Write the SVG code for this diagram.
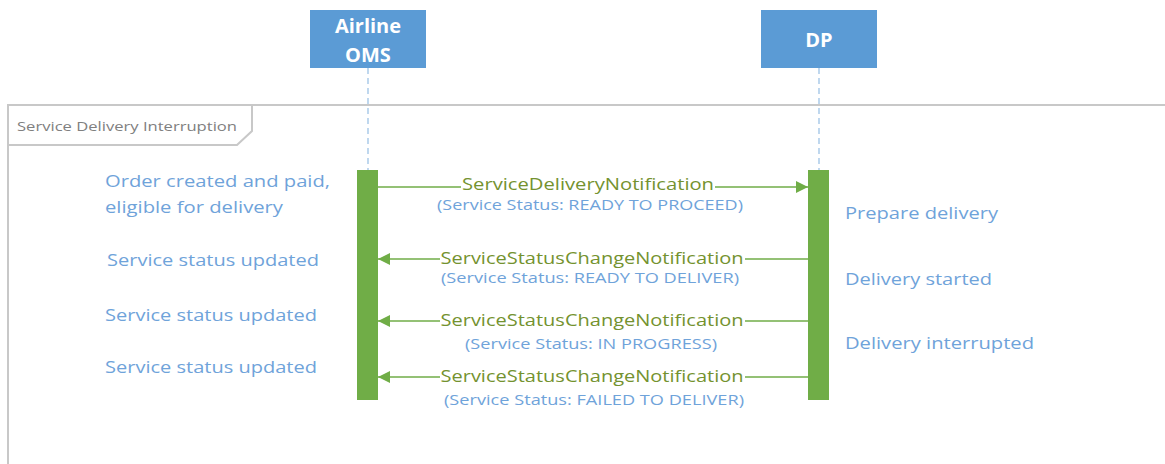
<svg xmlns="http://www.w3.org/2000/svg" width="1165" height="464" viewBox="0 0 1165 464">
<defs>
<marker id="ah" viewBox="0 0 12 12" refX="12" refY="6" markerWidth="12" markerHeight="12" markerUnits="userSpaceOnUse" orient="auto">
<path d="M0,0 L12,6 L0,12 Z" fill="#70AD47"/>
</marker>
<style>
.hdr{fill:#5B9BD5}
.hdrt{fill:#ffffff;font-family:"Open Sans","Liberation Sans",sans-serif;font-weight:bold;font-size:20px;text-anchor:middle}
.life{stroke:#9DC3E6;stroke-width:1.3;stroke-dasharray:6,4;fill:none}
.bar{fill:#70AD47}
.msg{stroke:#70AD47;stroke-width:1.5;fill:none}
.mt{fill:#74922F;font-family:"Open Sans","Liberation Sans",sans-serif;font-size:16px;text-anchor:middle}
.st{fill:#6FA3DA;font-family:"Open Sans","Liberation Sans",sans-serif;font-size:14px;text-anchor:middle}
.note{fill:#6FA3DA;font-family:"Open Sans","Liberation Sans",sans-serif;font-size:16px}
.frame{stroke:#C8C8C8;stroke-width:2;fill:none}
.ft{fill:#808080;font-family:"Open Sans","Liberation Sans",sans-serif;font-size:13px}
</style>
</defs>
<rect width="1165" height="464" fill="#ffffff"/>
<g id="frame">
<rect class="frame" x="8" y="105" width="1170" height="380"/>
<path class="frame" d="M8,145 L237,145 L252,131 L252,105"/>
<text class="ft" x="17" y="131" textLength="220" lengthAdjust="spacingAndGlyphs">Service Delivery Interruption</text>
</g>
<g id="airline-oms">
<rect class="hdr" x="310" y="10" width="116" height="58"/>
<text class="hdrt" x="368" y="33">Airline</text>
<text class="hdrt" x="368" y="62">OMS</text>
<line class="life" x1="368" y1="68" x2="368" y2="170"/>
<rect class="bar" x="357" y="170" width="21" height="230"/>
</g>
<g id="dp">
<rect class="hdr" x="761" y="10" width="116" height="58"/>
<text class="hdrt" x="819" y="47">DP</text>
<line class="life" x1="819" y1="68" x2="819" y2="170"/>
<rect class="bar" x="808" y="170" width="21" height="230"/>
</g>
<g id="connectors">
<line class="msg" x1="378" y1="187" x2="808" y2="187" marker-end="url(#ah)"/>
<line class="msg" x1="808" y1="259" x2="378" y2="259" marker-end="url(#ah)"/>
<line class="msg" x1="808" y1="321" x2="378" y2="321" marker-end="url(#ah)"/>
<line class="msg" x1="808" y1="377" x2="378" y2="377" marker-end="url(#ah)"/>
</g>
<g id="labels">
<rect x="461" y="178" width="254" height="15" fill="#ffffff"/>
<text class="mt" x="588" y="190" textLength="252" lengthAdjust="spacingAndGlyphs">ServiceDeliveryNotification</text>
<text class="st" x="590" y="209.5" textLength="306" lengthAdjust="spacingAndGlyphs">(Service Status: READY TO PROCEED)</text>
<rect x="440" y="250" width="305" height="15" fill="#ffffff"/>
<text class="mt" x="592" y="264" textLength="303" lengthAdjust="spacingAndGlyphs">ServiceStatusChangeNotification</text>
<text class="st" x="590" y="283" textLength="298" lengthAdjust="spacingAndGlyphs">(Service Status: READY TO DELIVER)</text>
<rect x="440" y="312" width="305" height="15" fill="#ffffff"/>
<text class="mt" x="592" y="326" textLength="303" lengthAdjust="spacingAndGlyphs">ServiceStatusChangeNotification</text>
<text class="st" x="591" y="349" textLength="252" lengthAdjust="spacingAndGlyphs">(Service Status: IN PROGRESS)</text>
<rect x="440" y="368" width="305" height="15" fill="#ffffff"/>
<text class="mt" x="592" y="382" textLength="303" lengthAdjust="spacingAndGlyphs">ServiceStatusChangeNotification</text>
<text class="st" x="594" y="405" textLength="300" lengthAdjust="spacingAndGlyphs">(Service Status: FAILED TO DELIVER)</text>
</g>
<g id="notes">
<text class="note" x="105" y="187" textLength="225" lengthAdjust="spacingAndGlyphs">Order created and paid,</text>
<text class="note" x="105" y="213" textLength="178" lengthAdjust="spacingAndGlyphs">eligible for delivery</text>
<text class="note" x="107" y="266" textLength="212" lengthAdjust="spacingAndGlyphs">Service status updated</text>
<text class="note" x="105" y="321" textLength="212" lengthAdjust="spacingAndGlyphs">Service status updated</text>
<text class="note" x="105" y="373" textLength="212" lengthAdjust="spacingAndGlyphs">Service status updated</text>
<text class="note" x="845" y="219" textLength="153" lengthAdjust="spacingAndGlyphs">Prepare delivery</text>
<text class="note" x="845" y="285" textLength="147" lengthAdjust="spacingAndGlyphs">Delivery started</text>
<text class="note" x="845" y="349" textLength="189" lengthAdjust="spacingAndGlyphs">Delivery interrupted</text>
</g>
</svg>
